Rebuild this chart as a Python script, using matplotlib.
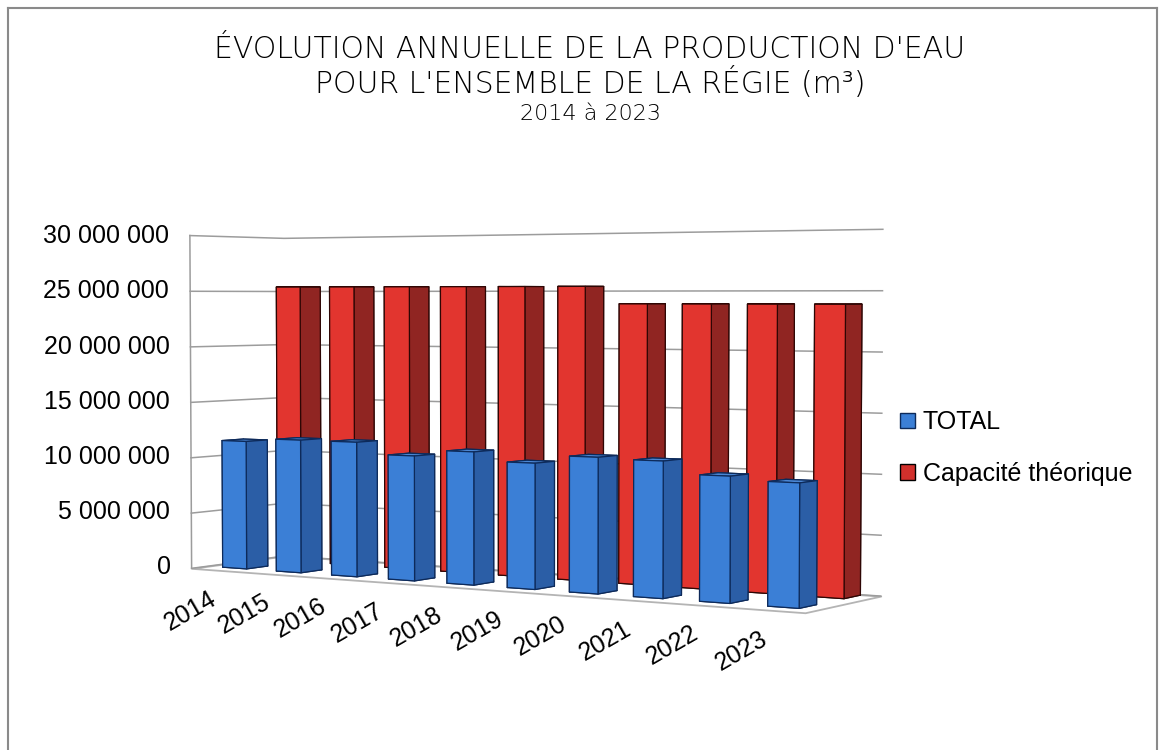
import matplotlib
matplotlib.use("Agg")
import matplotlib.pyplot as plt
from matplotlib.patches import Patch
from matplotlib.lines import Line2D
from mpl_toolkits.mplot3d.art3d import Poly3DCollection
from mpl_toolkits.mplot3d import proj3d

annees = ["2014", "2015", "2016", "2017", "2018", "2019", "2020", "2021", "2022", "2023"]
total = [11.5e6, 11.8e6, 11.8e6, 10.8e6, 11.35e6, 10.6e6, 11.3e6, 11.2e6, 10.2e6, 9.9e6]
capacite = [25.4e6, 25.4e6, 25.4e6, 25.4e6, 25.4e6, 25.4e6, 23.9e6, 23.9e6, 23.9e6, 23.9e6]
graduations = [0, 5e6, 10e6, 15e6, 20e6, 25e6, 30e6]
etiquettes = ["0", "5 000 000", "10 000 000", "15 000 000", "20 000 000", "25 000 000", "30 000 000"]

# couleurs par face : dessous, dessus, avant, arriere, gauche, droite
FACES_BLEU = ["#2a5a9c", "#4a86d4", "#3b7fd6", "#2a5a9c", "#2a5a9c", "#2b5ea6"]
FACES_ROUGE = ["#9a2522", "#c8302c", "#e2352f", "#9a2522", "#9a2522", "#902522"]
BLEU_BORD, ROUGE_BORD = "#0d2a5a", "#2e0604"
POLICE = "Liberation Sans"

fig = plt.figure(figsize=(11.59, 7.5), dpi=100)
fig.patch.set_facecolor("white")

# axe carre de 700 px centre sur la zone de trace
cx, cy, cote = 510, 417, 700
ax = fig.add_axes([(cx - cote / 2) / 1159, (750 - cy - cote / 2) / 750, cote / 1159, cote / 750],
                  projection="3d")
ax.patch.set_alpha(0)
ax.computed_zorder = False
ax.set_proj_type("persp", focal_length=0.7)
ax.view_init(elev=2.4, azim=-57)
PROF = 1.88
ax.set_box_aspect((8.5, PROF, 4.13), zoom=1.13)
ax.set_xlim(0, 10)
ax.set_ylim(0, PROF)
ax.set_zlim(0, 30e6)
ax.set_axis_off()

n = len(annees)
artistes = []
sol = Poly3DCollection([[(0, 0, 0), (n, 0, 0), (n, PROF, 0), (0, PROF, 0)]],
                       facecolor="white", edgecolor="#b4b4b4", linewidth=1.3, zorder=1)
ax.add_collection3d(sol)
artistes.append(sol)

# quadrillage sur les parois gauche et du fond
for z in graduations:
    artistes += ax.plot([0, 0, n], [0, PROF, PROF], [z, z, z], color="#9c9c9c", lw=1.1, zorder=2)
artistes += ax.plot([0, 0], [0, 0], [0, 30e6], color="#9c9c9c", lw=1.1, zorder=2)

larg = 0.45
xs = [i + 0.5 - larg / 2 for i in range(n)]
artistes.append(ax.bar3d(xs, [1.42] * n, [0] * n, larg, 0.42, capacite,
                         color=FACES_ROUGE * n, edgecolor=ROUGE_BORD, linewidth=0.9,
                         shade=False, zorder=3))
artistes.append(ax.bar3d(xs, [0.32] * n, [0] * n, larg, 0.42, total,
                         color=FACES_BLEU * n, edgecolor=BLEU_BORD, linewidth=0.9,
                         shade=False, zorder=4))
for a in artistes:
    a.set_clip_on(False)

for z, lab in zip(graduations, etiquettes):
    ax.text(-0.4, 0, z, lab, ha="right", va="center", fontsize=18, family=POLICE)

fig.canvas.draw()
M = ax.get_proj()
for i, an in enumerate(annees):
    px, py, _ = proj3d.proj_transform(i + 0.5, 0, 0, M)
    t = ax.annotate(an, xy=(px, py), xycoords="data", xytext=(-10, -16),
                    textcoords="offset pixels", rotation=30, rotation_mode="anchor",
                    ha="right", va="top", fontsize=18, family=POLICE)
    t.set_clip_on(False)

titre = dict(ha="center", va="center", family="DejaVu Sans", color="black", fontweight="light")
xt = 590 / 1159
fig.text(xt, 1 - 50 / 750, "ÉVOLUTION ANNUELLE DE LA PRODUCTION D'EAU", fontsize=21.5, **titre)
fig.text(xt, 1 - 83 / 750, "POUR L'ENSEMBLE DE LA RÉGIE (m³)", fontsize=21.5, **titre)
fig.text(xt, 1 - 114 / 750, "2014 à 2023", fontsize=16, **titre)

poignees = [Patch(facecolor="#3b7fd6", edgecolor=BLEU_BORD, label="TOTAL"),
            Patch(facecolor="#d2302c", edgecolor="black", label="Capacité théorique")]
fig.legend(handles=poignees, loc="center left", bbox_to_anchor=(878 / 1159, 1 - 448 / 750),
           frameon=False, prop={"family": POLICE, "size": 18}, handlelength=0.6,
           handleheight=0.6, handletextpad=0.3, labelspacing=1.1)

# cadre
for xd, yd in [([8 / 1159, 8 / 1159], [0, 1 - 8 / 750]),
               ([8 / 1159, 1157 / 1159], [1 - 8 / 750, 1 - 8 / 750]),
               ([1157 / 1159, 1157 / 1159], [1 - 8 / 750, 0])]:
    fig.add_artist(Line2D(xd, yd, transform=fig.transFigure, color="#8a8a8a", lw=1.5))

fig.savefig("out.png", dpi=100, facecolor="white")
